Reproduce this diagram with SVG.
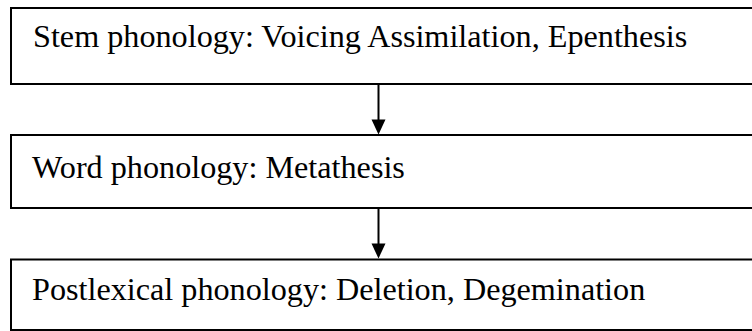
<svg xmlns="http://www.w3.org/2000/svg" width="752" height="331" viewBox="0 0 752 331">
  <style>
    .box { fill: #ffffff; stroke: #000000; stroke-width: 2; }
    .lbl { font-family: "Liberation Serif", "Times New Roman", serif; font-size: 32.2px; fill: #000000; }
    .conn { stroke: #000000; stroke-width: 2; fill: none; }
    .head { fill: #000000; }
  </style>
  <rect width="752" height="331" fill="#ffffff"/>
  <g id="node-stem">
    <path class="box" d="M760,8 H11 V84 H760"/>
    <text class="lbl" x="33" y="46.5">Stem phonology: Voicing Assimilation, Epenthesis</text>
  </g>
  <g id="node-word">
    <path class="box" d="M760,135 H11 V208 H760"/>
    <text class="lbl" x="32" y="177.5">Word phonology: Metathesis</text>
  </g>
  <g id="node-post">
    <path class="box" d="M760,259.5 H11 V330 H760" stroke="#222222"/>
    <text class="lbl" x="32" y="300">Postlexical phonology: Deletion, Degemination</text>
  </g>
  <g id="connectors">
    <line class="conn" x1="378.5" y1="84" x2="378.5" y2="121"/>
    <path class="head" d="M371.5,119.5 L385.5,119.5 L378.5,134.5 Z"/>
    <line class="conn" x1="378.5" y1="208" x2="378.5" y2="245"/>
    <path class="head" d="M371.5,243.5 L385.5,243.5 L378.5,258.5 Z"/>
  </g>
</svg>
